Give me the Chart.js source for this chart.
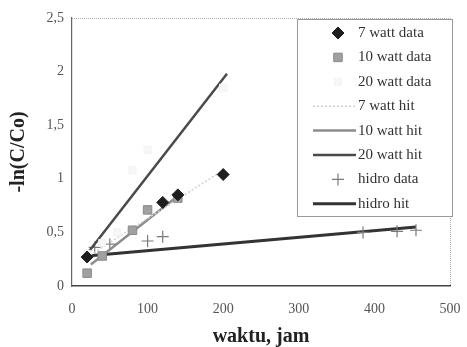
<!DOCTYPE html>
<html>
<head>
<meta charset="utf-8">
<script src="https://cdn.jsdelivr.net/npm/chart.js@4.4.1/dist/chart.umd.min.js"></script>
<style>
  html, body { margin: 0; padding: 0; background: #fff; }
  #wrap { width: 467px; height: 347px; }
</style>
</head>
<body>
<div id="wrap"><canvas id="chart" width="467" height="347"></canvas></div>
<script>
// data (x = waktu in jam, y = -ln(C/Co))
const data7 = [[20, 0.27], [120, 0.78], [140, 0.85], [200, 1.04]];
const data10 = [[20, 0.12], [40, 0.28], [80, 0.52], [100, 0.71], [140, 0.82]];
const data20 = [[20, 0.3], [40, 0.4], [60, 0.5], [80, 1.08], [100, 1.27], [200, 1.85]];
const hit7 = [[20, 0.27], [200, 1.08]];
const hit10 = [[25, 0.2], [140, 0.84]];
const hit20 = [[20, 0.3], [205, 1.98]];
const dataHidro = [[30, 0.36], [50, 0.39], [100, 0.42], [120, 0.46], [385, 0.5], [430, 0.51], [455, 0.52]];
const hitHidro = [[20, 0.28], [455, 0.55]];

const xTicks = [0, 100, 200, 300, 400, 500];
const yTicks = [0, 0.5, 1, 1.5, 2, 2.5];

const toXY = arr => arr.map(p => ({ x: p[0], y: p[1] }));
const serif = '"Liberation Serif", "DejaVu Serif", serif';

const datasets = [
  { label: '7 watt data', data: toXY(data7), pointStyle: 'rectRot', pointRadius: 6,
    backgroundColor: '#1e1e1e', borderColor: '#1e1e1e', showLine: false },
  { label: '10 watt data', data: toXY(data10), pointStyle: 'rect', pointRadius: 6,
    backgroundColor: '#a0a0a0', borderColor: '#8a8a8a', showLine: false },
  { label: '20 watt data', data: toXY(data20), pointStyle: 'rect', pointRadius: 5,
    backgroundColor: '#f7f7f7', borderColor: '#f2f2f2', showLine: false },
  { label: '7 watt hit', data: toXY(hit7), showLine: true, pointRadius: 0,
    borderColor: '#d0d0d0', borderWidth: 1.5, borderDash: [2, 2] },
  { label: '10 watt hit', data: toXY(hit10), showLine: true, pointRadius: 0,
    borderColor: '#8c8c8c', borderWidth: 2.5 },
  { label: '20 watt hit', data: toXY(hit20), showLine: true, pointRadius: 0,
    borderColor: '#4a4a4a', borderWidth: 2.5 },
  { label: 'hidro data', data: toXY(dataHidro), pointStyle: 'cross', pointRadius: 6,
    borderColor: '#7a7a7a', borderWidth: 1.2, showLine: false },
  { label: 'hidro hit', data: toXY(hitHidro), showLine: true, pointRadius: 0,
    borderColor: '#333333', borderWidth: 3 }
];

// legend box drawn inside the plot, upper right
const boxLegend = {
  id: 'boxLegend',
  afterDraw(chart) {
    const ctx = chart.ctx;
    const left = 297, top = 19, right = 452, bottom = 216;
    ctx.save();
    ctx.fillStyle = '#fff';
    ctx.fillRect(left, top, right - left, bottom - top);
    ctx.strokeStyle = '#9a9a9a';
    ctx.lineWidth = 1;
    ctx.strokeRect(left + 0.5, top + 0.5, right - left, bottom - top);
    ctx.font = '15px ' + serif;
    ctx.textBaseline = 'middle';
    chart.data.datasets.forEach((ds, i) => {
      const y = 33 + i * 24.4;
      if (ds.showLine) {
        ctx.strokeStyle = ds.borderColor;
        ctx.lineWidth = ds.borderWidth;
        ctx.setLineDash(ds.borderDash || []);
        ctx.beginPath();
        ctx.moveTo(313, y);
        ctx.lineTo(356, y);
        ctx.stroke();
        ctx.setLineDash([]);
      } else {
        ctx.fillStyle = ds.backgroundColor || 'transparent';
        ctx.strokeStyle = ds.borderColor;
        ctx.lineWidth = ds.borderWidth || 1;
        Chart.helpers.drawPoint(ctx, {
          pointStyle: ds.pointStyle, radius: ds.pointRadius, rotation: 0,
          borderWidth: ds.borderWidth || 1
        }, 338, y);
      }
      ctx.fillStyle = '#333';
      ctx.fillText(ds.label, 358, y);
    });
    ctx.restore();
  }
};

// dotted frame on top and right of the plot
const frame = {
  id: 'frame',
  beforeDatasetsDraw(chart) {
    const a = chart.chartArea, ctx = chart.ctx;
    ctx.save();
    ctx.strokeStyle = '#aaa';
    ctx.lineWidth = 1;
    ctx.setLineDash([1, 1]);
    ctx.beginPath();
    ctx.moveTo(a.left, a.top + 0.5);
    ctx.lineTo(a.right + 0.5, a.top + 0.5);
    ctx.lineTo(a.right + 0.5, a.bottom);
    ctx.stroke();
    ctx.restore();
  }
};

new Chart(document.getElementById('chart'), {
  type: 'scatter',
  data: { datasets },
  options: {
    responsive: false,
    animation: false,
    layout: { padding: { top: 18, right: 17, left: 0, bottom: 0 } },
    plugins: { legend: { display: false }, tooltip: { enabled: false } },
    scales: {
      x: {
        type: 'linear', min: 0, max: 500,
        afterBuildTicks: s => { s.ticks = xTicks.map(v => ({ value: v })); },
        afterFit: s => { s.height = 61; s.paddingLeft = 0; s.paddingRight = 0; },
        grid: { display: false, drawTicks: true, tickLength: 4 },
        border: { color: '#444', width: 1.5 },
        ticks: { color: '#555', font: { family: serif, size: 14 }, padding: 11 },
        title: { display: true, text: 'waktu, jam', color: '#222',
          font: { family: serif, size: 20, weight: 'bold' }, padding: { top: 0, bottom: -2 } }
      },
      y: {
        type: 'linear', min: 0, max: 2.5,
        afterBuildTicks: s => { s.ticks = yTicks.map(v => ({ value: v })); },
        afterFit: s => { s.width = 72; },
        grid: { display: false, drawTicks: true, tickLength: 4 },
        border: { color: '#666', width: 1.2 },
        ticks: { color: '#555', font: { family: serif, size: 14 }, padding: 4,
          callback: v => String(v).replace('.', ',') },
        title: { display: true, text: '-ln(C/Co)', color: '#222',
          font: { family: serif, size: 20, weight: 'bold' }, padding: { top: 7, bottom: 0 } }
      }
    }
  },
  plugins: [frame, boxLegend]
});
</script>
</body>
</html>
